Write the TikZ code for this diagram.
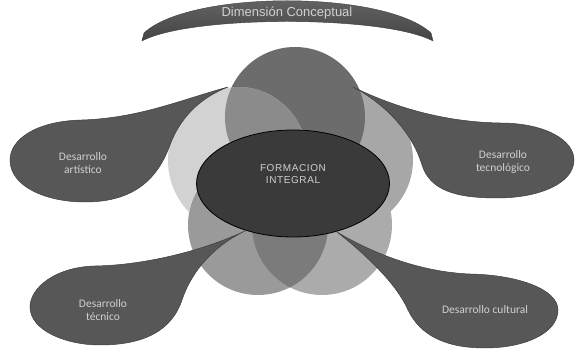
\documentclass[tikz,border=0pt]{standalone}
\usepackage{fontspec}
\setmainfont{Carlito}
\newfontfamily\arialf{Liberation Sans}
\newfontfamily\arialsp[LetterSpace=6]{Liberation Sans}
\usetikzlibrary{shapes.geometric}
\definecolor{blobc}{HTML}{575757}
\definecolor{blobline}{HTML}{3E3E3E}
\definecolor{topc}{HTML}{6C6C6C}
\definecolor{midc}{HTML}{8B8B8B}
\definecolor{leftc}{HTML}{D2D2D2}
\definecolor{rightc}{HTML}{A7A7A7}
\definecolor{blc}{HTML}{9A9A9A}
\definecolor{brc}{HTML}{ABABAB}
\definecolor{lensc}{HTML}{7B7B7B}
\definecolor{corec}{HTML}{3A3A3A}
\definecolor{txtc}{HTML}{D0D0D0}
\definecolor{bandtop}{HTML}{6A6A6A}
\definecolor{bandbot}{HTML}{444444}
\tikzset{
  blob/.style={fill=blobc, draw=blobline, line width=0.5pt},
  blobtext/.style={text=txtc, font=\fontsize{11.5}{13.5}\selectfont, align=center, inner sep=0pt},
}
\begin{document}
\begin{tikzpicture}[x=1pt,y=-1pt]
\useasboundingbox (0,0) rectangle (576,352);
% top band
\shade[top color=bandtop, bottom color=bandbot, draw=blobline, line width=0.4pt]
  (144,33) .. controls (190,-10) and (384,-10) .. (431,33)
  -- (433,41) .. controls (384,15) and (190,15) .. (142,41) -- cycle;
\node[text=txtc, font=\arialf\fontsize{13}{15}\selectfont, inner sep=0pt] (dim) at (287,13) {Dimensión Conceptual};
% petals
\fill[rightc] (343,160) circle[radius=70];
\fill[brc] (322,225) circle[radius=70];
\fill[blc] (258,225) circle[radius=70];
\begin{scope}
  \clip (322,225) circle[radius=70];
  \fill[lensc] (258,225) circle[radius=70];
\end{scope}
\fill[topc] (295,117) circle[radius=70];
\begin{scope}[even odd rule]
  \clip (0,0) rectangle (576,352) (258,225) circle[radius=70];
  \fill[leftc] (238,160) ellipse[x radius=70, y radius=73];
\end{scope}
\begin{scope}
  \clip (295,117) circle[radius=70];
  \fill[midc] (238,160) ellipse[x radius=70, y radius=73];
\end{scope}
% callouts
\path[blob] (228,87) .. controls (180,100) and (140,118) .. (82,120)
  .. controls (35,121) and (10,140) .. (10,160)
  .. controls (10,186) and (45,202) .. (85,202)
  .. controls (135,202) and (158,178) .. (170,145)
  .. controls (182,113) and (205,96) .. (228,87) -- cycle;
\path[blob] (353,87) .. controls (390,105) and (440,122) .. (500,123)
  .. controls (545,123) and (574,140) .. (574,160)
  .. controls (574,183) and (540,198) .. (497,198)
  .. controls (455,198) and (430,190) .. (422,165)
  .. controls (412,132) and (385,104) .. (353,87) -- cycle;
\path[blob] (247,230) .. controls (210,248) and (150,265) .. (95,266)
  .. controls (55,267) and (30,288) .. (30,307)
  .. controls (30,330) and (65,345) .. (100,345)
  .. controls (145,345) and (172,330) .. (182,300)
  .. controls (192,270) and (215,245) .. (247,230) -- cycle;
\path[blob] (337,232) .. controls (372,253) and (420,272) .. (470,274)
  .. controls (520,275) and (558,290) .. (558,310)
  .. controls (558,333) and (525,348) .. (485,348)
  .. controls (445,348) and (420,335) .. (408,310)
  .. controls (396,283) and (366,255) .. (337,232) -- cycle;
\node[blobtext] (art) at (83,163) {Desarrollo\\artístico};
\node[blobtext] (tecn) at (503,162) {Desarrollo\\tecnológico};
\node[blobtext] (tec) at (103,310) {Desarrollo\\técnico};
\node[blobtext] (cul) at (485,310) {Desarrollo cultural};
% core
\node[ellipse, fill=corec, draw=black, line width=0.8pt, minimum width=193pt, minimum height=107pt, inner sep=0pt] (core) at (293,183.5) {};
\node[text=txtc, font=\arialsp\fontsize{10}{12}\selectfont, align=center, inner sep=0pt] (coretext) at (293,174) {FORMACION\\INTEGRAL};
\end{tikzpicture}
\end{document}
